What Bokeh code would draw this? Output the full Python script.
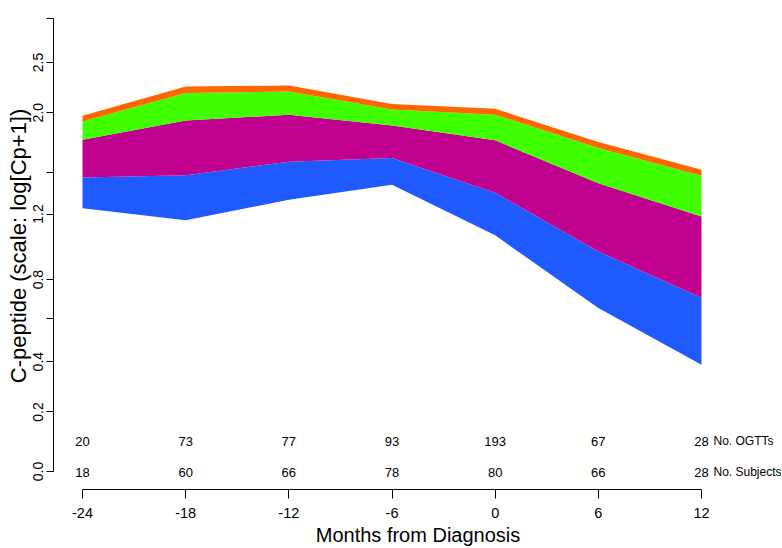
import numpy as np
from bokeh.plotting import figure
from bokeh.models import ColumnDataSource, Range1d, FixedTicker, LinearAxis
from bokeh.core.properties import value
from bokeh.embed import file_html
from bokeh.resources import INLINE

# ---- data ----
months = [-24, -18, -12, -6, 0, 6, 12]
n_ogtts = [20, 73, 77, 93, 193, 67, 28]
n_subjects = [18, 60, 66, 78, 80, 66, 28]

# C-peptide band boundaries (Cp values, plotted on log(Cp+1) scale)
cp_q1 = [1.239, 1.158, 1.298, 1.406, 1.061, 0.650, 0.387]
cp_q2 = [1.460, 1.477, 1.583, 1.612, 1.349, 0.962, 0.702]
cp_q3 = [1.762, 1.930, 1.983, 1.886, 1.757, 1.418, 1.184]
cp_q4 = [1.921, 2.187, 2.203, 2.031, 1.983, 1.694, 1.474]
cp_q5 = [1.974, 2.251, 2.261, 2.083, 2.037, 1.743, 1.519]

band_colors = ["#1F5AFF", "#C0008F", "#40FF00", "#FF6600"]

y_tick_values = [0.0, 0.2, 0.4, 0.6, 0.8, 1.2, 1.5, 2.0, 2.5, 3.0]
y_tick_labels = ["0.0", "0.2", "0.4", "", "0.8", "1.2", "", "2.0", "2.5", ""]
x_tick_values = months
row_labels = ["No. OGTTs", "No. Subjects"]

FONT = "Liberation Sans"

bounds = [np.log1p(np.array(q)) for q in (cp_q1, cp_q2, cp_q3, cp_q4, cp_q5)]
src = ColumnDataSource(dict(x=months, b0=bounds[0], b1=bounds[1], b2=bounds[2],
                            b3=bounds[3], b4=bounds[4],
                            ogtt=[str(v) for v in n_ogtts],
                            subj=[str(v) for v in n_subjects]))

p = figure(width=782, height=548, output_backend="svg", toolbar_location=None,
           x_range=Range1d(-25.687, 16.711), y_range=Range1d(-0.0551, 1.4364),
           min_border_left=53, min_border_right=0, min_border_top=2,
           min_border_bottom=59)
p.outline_line_color = None
p.xgrid.visible = False
p.ygrid.visible = False
p.background_fill_color = "white"

cols = ["b0", "b1", "b2", "b3", "b4"]
for i, c in enumerate(band_colors):
    p.varea(x="x", y1=cols[i], y2=cols[i + 1], source=src, fill_color=c,
            fill_alpha=1.0)

# count rows
row_y = [0.092, -0.003]
p.text(x="x", y=row_y[0], text="ogtt", source=src, text_align="center",
       text_baseline="middle", text_font=value(FONT), text_font_size="13px",
       text_color="black")
p.text(x="x", y=row_y[1], text="subj", source=src, text_align="center",
       text_baseline="middle", text_font=value(FONT), text_font_size="13px",
       text_color="black")
for lab, yy in zip(row_labels, row_y):
    p.text(x=[months[-1]], y=[yy], text=[lab], x_offset=12, text_align="left",
           text_baseline="middle", text_font=value(FONT), text_font_size="12px",
           text_color="black")

# y axis
ya = p.yaxis[0]
ya.ticker = FixedTicker(ticks=[float(np.log1p(v)) for v in y_tick_values])
ya.major_label_overrides = {float(np.log1p(v)): l for v, l in zip(y_tick_values, y_tick_labels)}
ya.bounds = (0.0, float(np.log1p(3.0)))
ya.major_label_orientation = "vertical"
ya.major_tick_out = 7
ya.major_tick_in = 0
ya.minor_tick_line_color = None
ya.major_label_standoff = 3
ya.major_label_text_font = FONT
ya.major_label_text_font_size = "14px"
ya.major_label_text_color = "black"
ya.axis_line_color = "black"
ya.major_tick_line_color = "black"

# y axis title (separate axis holding only the title)
yt = LinearAxis(ticker=FixedTicker(ticks=[]), axis_line_color=None,
                major_tick_out=0, major_tick_in=0, major_label_standoff=0,
                minor_tick_line_color=None, major_tick_line_color=None,
                bounds=(0.0, 1.44), axis_label="C-peptide (scale: log[Cp+1])",
                axis_label_standoff=0, axis_label_text_font=FONT,
                axis_label_text_font_size="22px", axis_label_text_font_style="normal",
                axis_label_text_color="black")
p.add_layout(yt, "left")

# x axis
xa = p.xaxis[0]
xa.ticker = FixedTicker(ticks=x_tick_values)
xa.major_label_overrides = {m: str(m) for m in x_tick_values}
xa.bounds = (months[0], months[-1])
xa.major_tick_out = 9
xa.major_tick_in = 0
xa.minor_tick_line_color = None
xa.major_label_standoff = 9
xa.major_label_text_font = FONT
xa.major_label_text_font_size = "14.5px"
xa.major_label_text_color = "black"
xa.axis_line_color = "black"
xa.major_tick_line_color = "black"

xt = LinearAxis(ticker=FixedTicker(ticks=[]), axis_line_color=None,
                major_tick_out=0, major_tick_in=0, major_label_standoff=0,
                minor_tick_line_color=None, major_tick_line_color=None,
                axis_label="Months from Diagnosis", axis_label_standoff=3,
                axis_label_text_font=FONT, axis_label_text_font_size="20px",
                axis_label_text_font_style="normal", axis_label_text_color="black")
p.add_layout(xt, "below")

open("out.html", "w").write(file_html(p, INLINE))
